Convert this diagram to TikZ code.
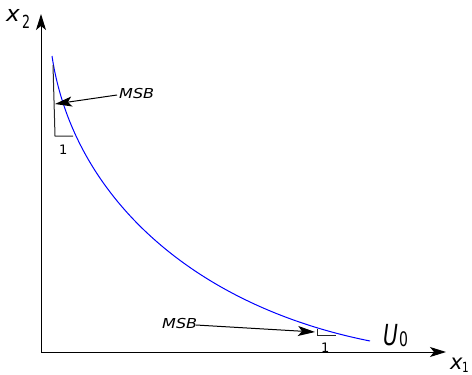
\documentclass[tikz,border=0pt]{standalone}
\usepackage{fontspec}
\setmainfont{DejaVu Sans}
\usetikzlibrary{arrows.meta}
\begin{document}
\begin{tikzpicture}[x=1pt,y=-1pt,
  axis/.style={line width=1pt, -{Stealth[length=16pt,width=10pt,inset=4pt]}},
  msbarrow/.style={line width=1pt, -{Stealth[length=17pt,width=10pt,inset=4pt]}},
  leg/.style={line width=1pt, black!85},
  curve/.style={blue, line width=1pt},
  lbl/.style={inner sep=0pt, anchor=base west},
]
\useasboundingbox (0,0) rectangle (472,375);
% axes
\coordinate (O) at (41,352);
\coordinate (Ytip) at (41,14);
\coordinate (Xtip) at (446,352);
\draw[axis] (O) -- (Ytip);
\draw[axis] (O) -- (Xtip);
% indifference curve
\coordinate (cstart) at (52,56);
\coordinate (cend) at (370,341);
\draw[curve] (cstart) .. controls (73,197) and (194,306) .. (cend);
% top slope triangle
\coordinate (t1) at (53,65);
\coordinate (t2) at (55,136);
\coordinate (t3) at (73,136);
\draw[leg] (t1) -- (t2) -- (t3);
\node[lbl, font=\fontsize{13}{13}\selectfont] (one1) at (59,154) {1};
% bottom slope triangle
\coordinate (b1) at (317,329);
\coordinate (b2) at (317,335);
\coordinate (b3) at (336,335);
\draw[leg] (b1) -- (b2) -- (b3);
\node[lbl, font=\fontsize{13}{13}\selectfont] (one2) at (321,352) {1};
% MSB labels and arrows
\node[lbl, font=\fontsize{13.7}{14}\itshape, xscale=1.17] (msb1) at (119,98) {MSB};
\coordinate (msb1tail) at (117,95);
\coordinate (tip1) at (55,104);
\draw[msbarrow] (msb1tail) -- (tip1);
\node[lbl, font=\fontsize{13.7}{14}\itshape, xscale=1.17] (msb2) at (162,328) {MSB};
\coordinate (msb2tail) at (196,325);
\coordinate (tip2) at (315,332);
\draw[msbarrow] (msb2tail) -- (tip2);
% curve label
\node[lbl, font=\fontsize{29}{29}\itshape, xscale=0.7] (U) at (383,345) {U};
\node[lbl, font=\fontsize{20}{20}\selectfont, xscale=0.7] (U0) at (399,346) {0};
% axis labels
\node[lbl, font=\fontsize{22}{22}\itshape, xscale=1.05] (x2) at (6,21) {x};
\node[lbl, font=\fontsize{18}{18}\selectfont, xscale=0.7] (x2s) at (22,28) {2};
\node[lbl, font=\fontsize{21}{21}\itshape, xscale=1.0] (x1) at (450,369) {x};
\node[lbl, font=\fontsize{14}{14}\selectfont, xscale=0.75] (x1s) at (462,372) {1};
\end{tikzpicture}
\end{document}
